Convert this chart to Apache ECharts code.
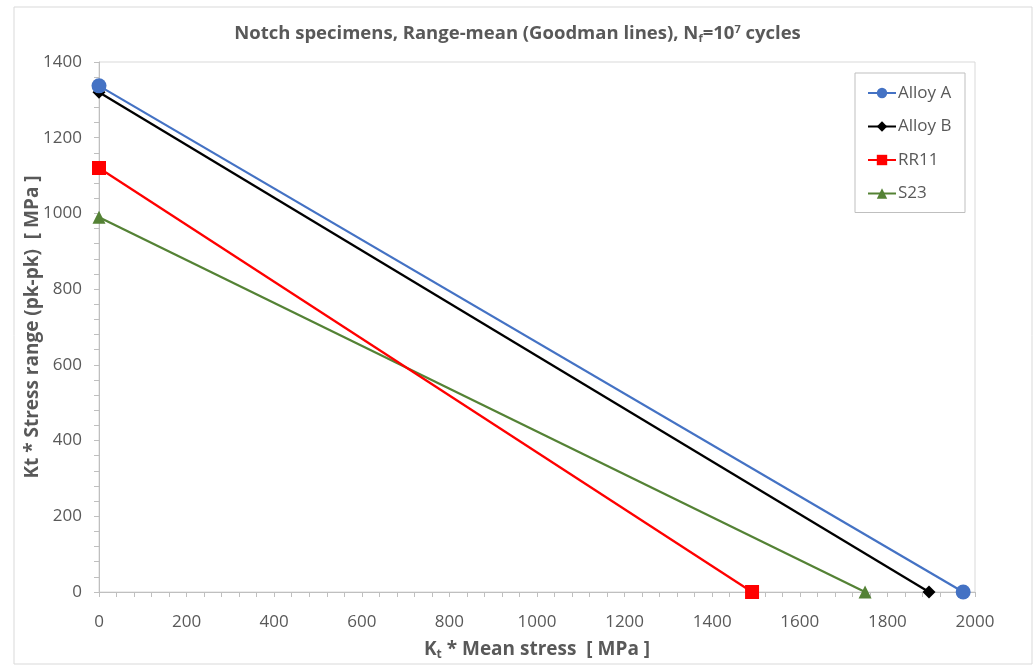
<!DOCTYPE html>
<html>
<head>
<meta charset="utf-8">
<script src="https://cdn.jsdelivr.net/npm/echarts@6/dist/echarts.min.js"></script>
<style>html,body{margin:0;padding:0;background:#fff;}#c{width:1035px;height:666px;}</style>
</head>
<body>
<div id="c"></div>
<script>
const seriesNames = ['Alloy A', 'Alloy B', 'RR11', 'S23'];
const alloyA = [[0, 1337], [1973, 0]];
const alloyB = [[0, 1320], [1895, 0]];
const rr11 = [[0, 1120], [1491, 0]];
const s23 = [[0, 990], [1749, 0]];
const xTicks = [0, 200, 400, 600, 800, 1000, 1200, 1400, 1600, 1800, 2000];
const yTicks = [0, 200, 400, 600, 800, 1000, 1200, 1400];

const FONT = '"Open Sans", "Liberation Sans", sans-serif';
const GRAY = '#595959';
const chart = echarts.init(document.getElementById('c'));
const styles = [
  {color: '#4472C4', symbol: 'circle', size: 15},
  {color: '#000000', symbol: 'diamond', size: 13},
  {color: '#FF0000', symbol: 'rect', size: 14},
  {color: '#548235', symbol: 'triangle', size: 13}
];
const datas = [alloyA, alloyB, rr11, s23];
chart.setOption({
  animation: false,
  backgroundColor: '#fff',
  title: {
    text: '{a|Notch specimens, Range-mean (Goodman lines), N}{s|f}{a|=10}{p|7}{a| cycles}',
    left: 'center', top: 24,
    padding: [0, 0, 0, 10],
    textStyle: {
      rich: {
        a: {fontFamily: FONT, fontSize: 18.5, fontWeight: 'bold', color: GRAY},
        s: {fontFamily: FONT, fontSize: 11, fontWeight: 'bold', color: GRAY, verticalAlign: 'bottom', padding: [9, 0, 0, 0]},
        p: {fontFamily: FONT, fontSize: 11, fontWeight: 'bold', color: GRAY, verticalAlign: 'top', padding: [0, 0, 9, 0]}
      }
    }
  },
  graphic: [
    {type: 'rect', shape: {x: 14, y: 7, width: 1018, height: 657}, style: {fill: 'none', stroke: '#D9D9D9', lineWidth: 1}, silent: true, z: -1},
    {type: 'rect', shape: {x: 99, y: 62, width: 876, height: 530}, style: {fill: 'none', stroke: '#D9D9D9', lineWidth: 1}, silent: true, z: 0}
  ],
  legend: {
    data: seriesNames,
    orient: 'vertical',
    left: 855, top: 73,
    padding: [10, 12, 9, 12],
    itemGap: 13.5,
    itemWidth: 28, itemHeight: 13,
    borderColor: '#BFBFBF', borderWidth: 1,
    textStyle: {fontFamily: FONT, fontSize: 17, color: GRAY, lineHeight: 20, width: 55, padding: [0, 0, 0, -3]}
  },
  grid: {left: 99, right: 60, top: 62, bottom: 74},
  xAxis: {
    type: 'value', min: 0, max: 2000, interval: 200,
    name: '{a|K}{s|t}{a| * Mean stress  [ MPa ]}',
    nameLocation: 'middle', nameGap: 47,
    nameMoveOverlap: false,
    nameTextStyle: {
      rich: {
        a: {fontFamily: FONT, fontSize: 19, fontWeight: 'bold', color: GRAY},
        s: {fontFamily: FONT, fontSize: 12, fontWeight: 'bold', color: GRAY, verticalAlign: 'bottom', padding: [10, 0, 0, 0]}
      }
    },
    axisLine: {show: true, lineStyle: {color: '#BFBFBF'}},
    axisTick: {show: true, inside: false, length: 5, lineStyle: {color: '#BFBFBF'}},
    minorTick: {show: true, splitNumber: 5, length: 5, lineStyle: {color: '#BFBFBF'}},
    splitLine: {show: false},
    axisLabel: {fontFamily: FONT, fontSize: 17, color: GRAY, margin: 22, formatter: v => xTicks.includes(v) ? String(v) : ''}
  },
  yAxis: {
    type: 'value', min: 0, max: 1400, interval: 200,
    name: 'Kt * Stress range (pk-pk)  [ MPa ]',
    nameLocation: 'middle', nameGap: 57, nameRotate: 90,
    nameMoveOverlap: false,
    nameTextStyle: {fontFamily: FONT, fontSize: 19, fontWeight: 'bold', color: GRAY},
    axisLine: {show: true, lineStyle: {color: '#BFBFBF'}},
    axisTick: {show: true, inside: false, length: 5, lineStyle: {color: '#BFBFBF'}},
    minorTick: {show: true, splitNumber: 5, length: 5, lineStyle: {color: '#BFBFBF'}},
    splitLine: {show: false},
    axisLabel: {fontFamily: FONT, fontSize: 17, color: GRAY, margin: 17, formatter: v => yTicks.includes(v) ? String(v) : ''}
  },
  series: seriesNames.map((n, i) => ({
    name: n, type: 'line', data: datas[i],
    symbol: styles[i].symbol, symbolSize: styles[i].size,
    showAllSymbol: true,
    lineStyle: {color: styles[i].color, width: 2.25},
    itemStyle: {color: styles[i].color},
    clip: false,
    z: 10 - i
  }))
});
</script>
</body>
</html>
